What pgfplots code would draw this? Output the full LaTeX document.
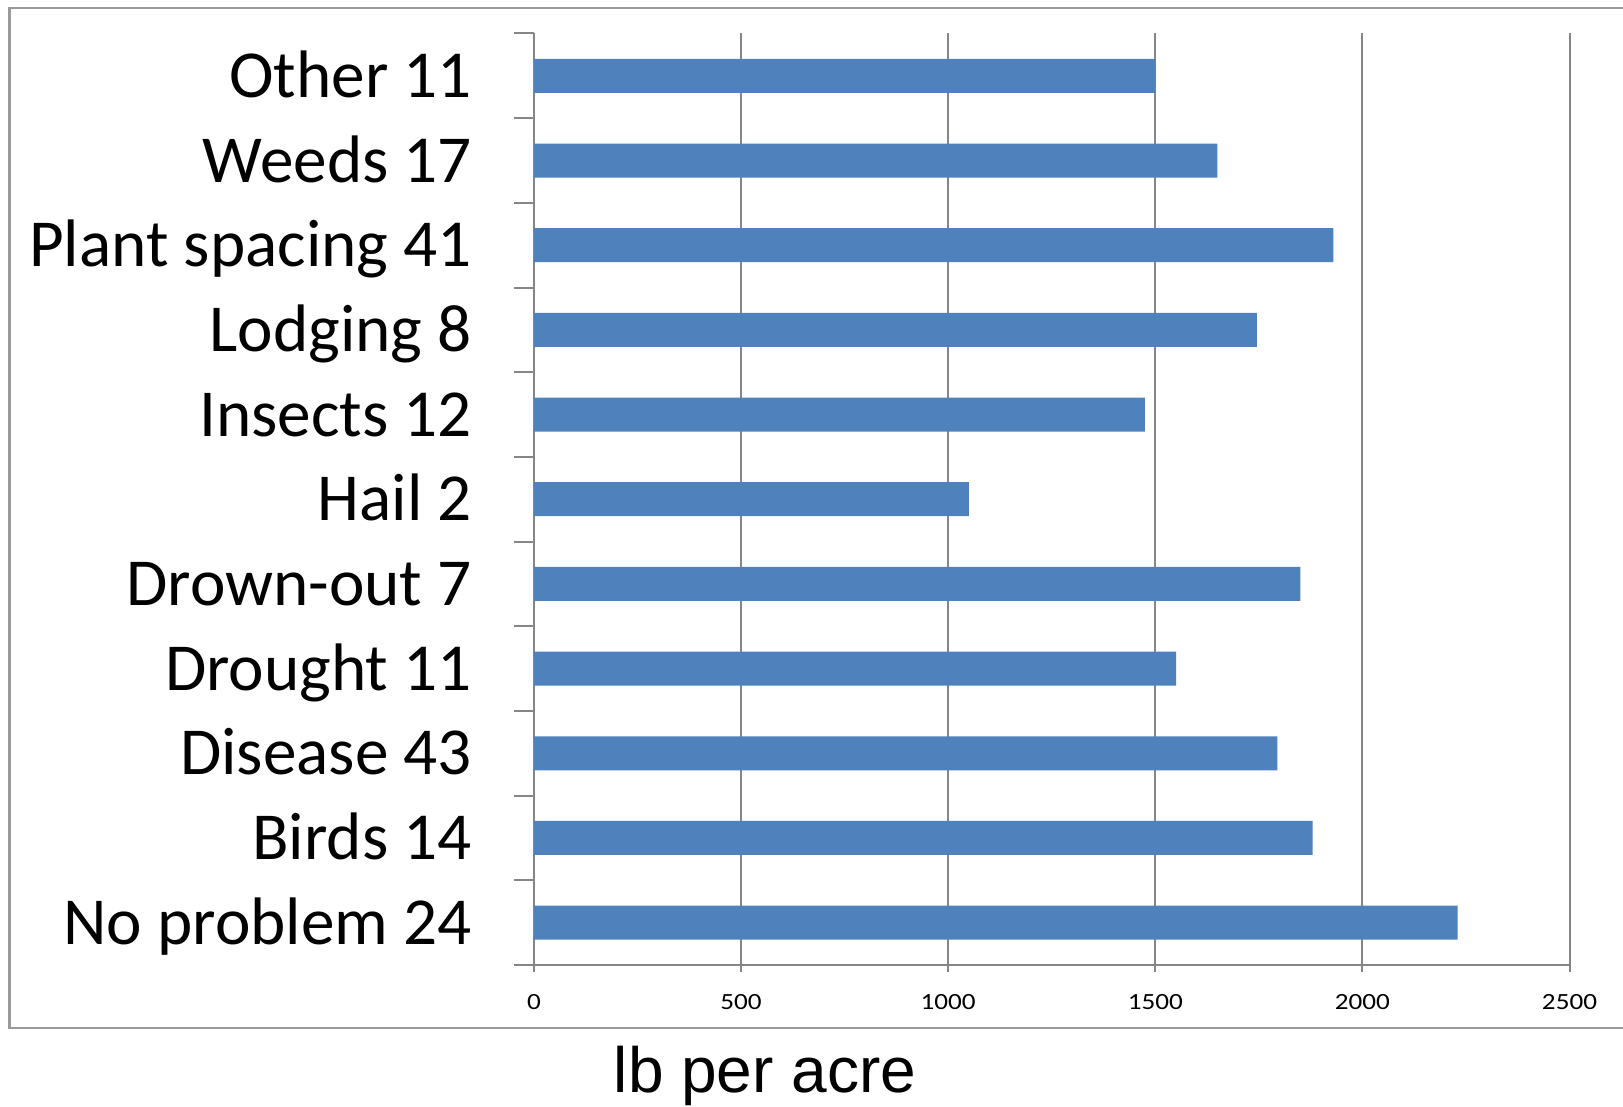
\documentclass[border=0pt]{standalone}
\usepackage{fontspec}
\setmainfont{Carlito}
\newfontfamily\tickfont[FakeStretch=1.17]{Carlito}
\newfontfamily\labelfont{Liberation Sans}
\usepackage{pgfplots}
\pgfplotsset{compat=1.18}
\definecolor{barblue}{HTML}{4F81BD}
\definecolor{gridgray}{HTML}{868686}
\definecolor{framegray}{HTML}{9A9A9A}

\begin{document}
\begin{tikzpicture}
\path[use as bounding box] (0,0) rectangle (811.5pt,553.5pt);
\draw[framegray, line width=1.2pt] (815pt,549.5pt) -- (4.65pt,549.5pt) -- (4.65pt,39.5pt) -- (815pt,39.5pt);
\begin{axis}[
    at={(267pt,71pt)}, anchor=south west,
    scale only axis, width=517.75pt, height=465.75pt,
    xbar, bar width=17pt,
    xmin=0, xmax=2500, ymin=-0.5, ymax=10.5,
    axis x line=bottom, axis y line=left,
    axis line style={gridgray, line width=1pt, -},
    xtick={0,500,...,2500},
    xmajorgrids, grid style={gridgray, line width=1pt},
    ytick={0,...,10},
    yticklabels={No problem 24, Birds 14, Disease 43, Drought 11, Drown-out 7,
      Hail 2, Insects 12, Lodging 8, Plant spacing 41, Weeds 17, Other 11},
    minor ytick={-0.5,0.5,...,10.5},
    tick align=outside,
    major tick length=3.5pt, minor tick length=10pt,
    major y tick style={draw=none},
    tick style={gridgray, line width=1pt},
    minor tick style={gridgray, line width=1pt},
    /pgf/number format/assume math mode=true,
    /pgf/number format/1000 sep={},
    xticklabel style={font=\tickfont\fontsize{11.6pt}{14pt}\selectfont,
      anchor=base, inner sep=0pt, yshift=-19pt},
    yticklabel style={font=\fontsize{33.6pt}{40pt}\selectfont,
      anchor=base east, inner sep=0pt, xshift=-27.4pt, yshift=-10.8pt},
  ]
  \addplot[fill=barblue, draw=none] coordinates {
    (2230,0) (1880,1) (1795,2) (1550,3) (1850,4) (1050,5)
    (1475,6) (1745,7) (1930,8) (1650,9) (1500,10)
  };
\end{axis}
\node[anchor=base, inner sep=0pt, font=\labelfont\fontsize{32pt}{38pt}\selectfont] at (382.5pt,7pt) {lb per acre};
\end{tikzpicture}
\end{document}
